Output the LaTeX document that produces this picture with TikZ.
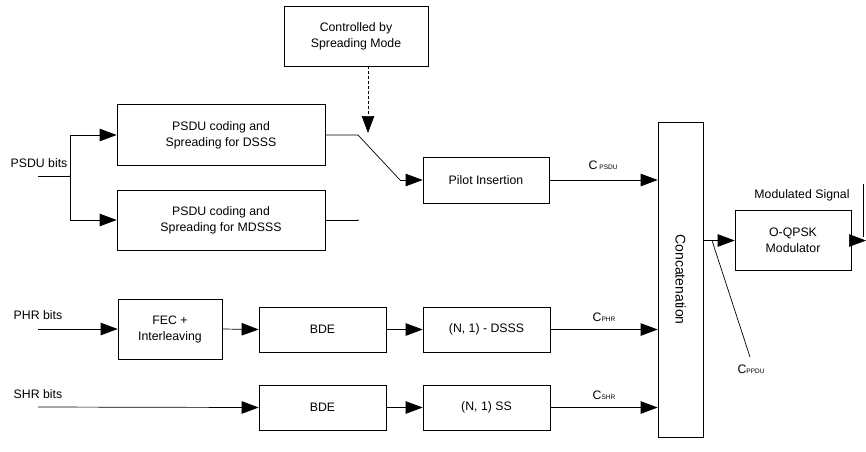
\documentclass[tikz,border=0pt]{standalone}
\usepackage{fontspec}
\setmainfont{Liberation Sans}
\usetikzlibrary{arrows.meta}
\newcommand{\sbs}[1]{{\fontsize{6.5}{6.5}\selectfont #1}}
\begin{document}
\begin{tikzpicture}[x=1pt,y=-1pt,
  font=\fontsize{12.3}{16}\selectfont,
  blk/.style={draw, line width=0.7pt, inner sep=0pt, align=center},
  wire/.style={line width=0.7pt},
  tip/.tip={Triangle[length=17pt,width=12.5pt]},
  arr/.style={wire, -tip},
  lbl/.style={inner sep=0pt, anchor=center},
  dot/.style={circle, fill, inner sep=0pt, minimum size=1.5pt}]
\useasboundingbox (0,0) rectangle (866,451);

% blocks
\node[blk, minimum width=144pt, minimum height=60pt] (ctrl) at (356,36) {Controlled by\\Spreading Mode};
\node[blk, minimum width=208pt, minimum height=61pt] (dsss) at (221,135) {PSDU coding and\\Spreading for DSSS};
\node[blk, minimum width=208pt, minimum height=60pt] (mdsss) at (221,220) {PSDU coding and\\Spreading for MDSSS};
\node[blk, minimum width=126pt, minimum height=46pt] (pilot) at (486,180) {Pilot Insertion};
\node[blk, minimum width=104pt, minimum height=60pt] (fec) at (170,329) {FEC +\\Interleaving};
\node[blk, minimum width=127pt, minimum height=45pt] (bdea) at (322.5,329.5) {BDE};
\node[blk, minimum width=127pt, minimum height=45pt] (nds) at (486.5,329.5) {(N, 1) - DSSS};
\node[blk, minimum width=127pt, minimum height=45pt] (bdeb) at (322.5,407.5) {BDE};
\node[blk, minimum width=127pt, minimum height=45pt] (nss) at (486.5,407.5) {(N, 1) SS};
\node[blk, minimum width=45pt, minimum height=315pt] (cat) at (680.5,279.5) {};
\node[rotate=-90, font=\fontsize{14}{16}\selectfont] (cattxt) at (cat.center) {Concatenation};
\node[blk, minimum width=116pt, minimum height=60pt] (mod) at (793,240.5) {O-QPSK\\Modulator};

% input labels
\node[lbl] (psdu) at (39,163) {PSDU bits};
\node[lbl] (phr) at (38,315) {PHR bits};
\node[lbl] (shr) at (38,394) {SHR bits};
\node[lbl] (modsig) at (802,195) {Modulated Signal};

% signal labels
\node[lbl] (cpsdu) at (603,165) {C\,\sbs{PSDU}};
\node[lbl] (cphr) at (604,317) {C\sbs{PHR}};
\node[lbl] (cshr) at (604,395) {C\sbs{SHR}};
\node[lbl] (cppdu) at (751,369) {C\sbs{PPDU}};

% helper points
\coordinate (psdustart) at (38,176);
\coordinate (split) at (70,176);
\coordinate (phrstart) at (38,329);
\coordinate (shrstart) at (38,407);
\coordinate (swa) at (358,135);
\coordinate (swb) at (400,180);
\coordinate (swm) at (358,220);
\coordinate (ctl) at (368,133);
\coordinate (tap) at (712,240.5);
\coordinate (tapend) at (750,357);
\coordinate (out) at (866,240.5);
\coordinate (bartop) at (863,184);
\coordinate (barbot) at (863,237);

% PSDU path
\draw[wire] (psdustart) -- (split);
\node[dot] (splitdot) at (split) {};
\draw[arr] (split) |- (dsss.west);
\draw[arr] (split) |- (mdsss.west);

% spreading mode switch
\draw[wire] (dsss.east) -- (swa) -- (swb);
\draw[arr] (swb) -- (pilot.west);
\draw[wire] (mdsss.east) -- (swm);
\node[dot] (swmdot) at (swm) {};
\draw[wire, dashed, dash pattern=on 3pt off 2pt, -tip] (ctrl.south -| ctl) -- (ctl);

% PHR and SHR paths
\draw[arr] (phrstart) -- (fec.west);
\draw[arr] (fec.east) -- (bdea.west);
\draw[arr] (bdea.east) -- (nds.west);
\draw[arr] (shrstart) -- (bdeb.west);
\draw[arr] (bdeb.east) -- (nss.west);

% into concatenation
\draw[arr] (pilot.east) -- (pilot.east -| cat.west);
\draw[arr] (nds.east) -- (nds.east -| cat.west);
\draw[arr] (nss.east) -- (nss.east -| cat.west);

% modulator
\draw[arr] (cat.east |- mod.west) -- (mod.west);
\draw[wire] (tap) -- (tapend);
\draw[arr] (mod.east) -- (out);
\draw[wire] (bartop) -- (barbot);
\end{tikzpicture}
\end{document}
